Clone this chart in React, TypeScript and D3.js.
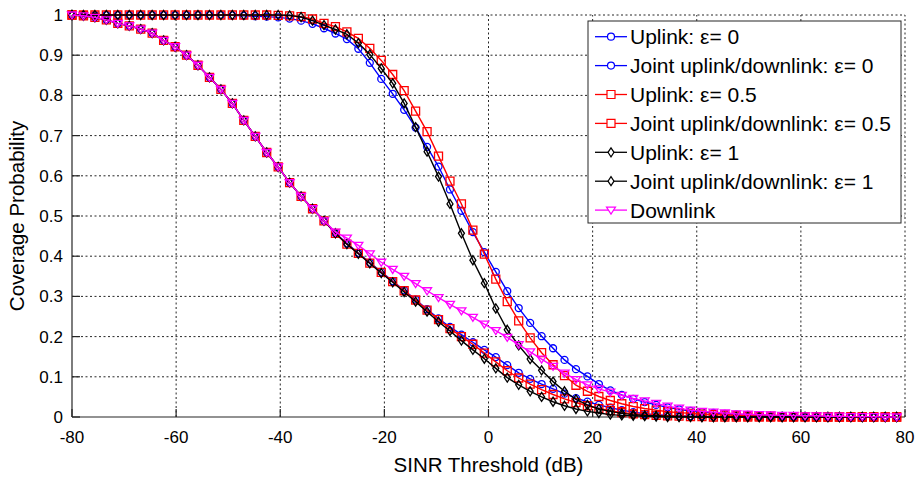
import React from 'react';
import * as d3 from 'd3';

// SINR grid (dB) where the curves were sampled
const snrDb = [
  -80, -77.8, -75.6, -73.4, -71.2, -69, -66.8, -64.6, -62.4, -60.2,
  -58, -55.8, -53.6, -51.4, -49.2, -47, -44.8, -42.6, -40.4, -38.2,
  -36, -33.8, -31.6, -29.4, -27.2, -25, -22.8, -20.6, -18.4, -16.2,
  -14, -11.8, -9.6, -7.4, -5.2, -3, -0.8, 1.4, 3.6, 5.8,
  8, 10.2, 12.4, 14.6, 16.8, 19, 21.2, 23.4, 25.6, 27.8,
  30, 32.2, 34.4, 36.6, 38.8, 41, 43.2, 45.4, 47.6, 49.8,
  52, 54.2, 56.4, 58.6, 60.8, 63, 65.2, 67.4, 69.6, 71.8,
  74, 76.2, 78.4,
];

const uplinkEps0 = [
  1, 1, 1, 1, 1, 1, 1, 1, 1, 1,
  1, 1, 1, 1, 0.999, 0.998, 0.997, 0.996, 0.994, 0.991,
  0.986, 0.978, 0.967, 0.954, 0.94, 0.916, 0.881, 0.841, 0.804, 0.764,
  0.72, 0.672, 0.623, 0.566, 0.513, 0.46, 0.41, 0.361, 0.313, 0.271,
  0.234, 0.201, 0.171, 0.142, 0.119, 0.101, 0.082, 0.066, 0.055, 0.045,
  0.037, 0.03, 0.024, 0.019, 0.015, 0.012, 0.01, 0.008, 0.006, 0.005,
  0.004, 0.003, 0.003, 0.002, 0.002, 0.001, 0.001, 0.001, 0, 0,
  0, 0, 0,
];

const jointEps0 = [
  1, 0.998, 0.994, 0.988, 0.979, 0.973, 0.965, 0.955, 0.937, 0.921,
  0.9, 0.875, 0.845, 0.815, 0.78, 0.738, 0.698, 0.658, 0.622, 0.583,
  0.549, 0.518, 0.488, 0.457, 0.432, 0.408, 0.384, 0.361, 0.338, 0.315,
  0.292, 0.268, 0.245, 0.224, 0.205, 0.186, 0.167, 0.149, 0.129, 0.11,
  0.095, 0.082, 0.07, 0.058, 0.047, 0.038, 0.03, 0.023, 0.017, 0.012,
  0.008, 0.006, 0.004, 0.003, 0.002, 0.002, 0.001, 0.001, 0, 0,
  0, 0, 0, 0, 0, 0, 0, 0, 0, 0,
  0, 0, 0,
];

const uplinkEps05 = [
  1, 1, 1, 1, 1, 1, 1, 1, 1, 1,
  1, 1, 1, 1, 1, 1, 1, 1, 0.999, 0.998,
  0.996, 0.99, 0.979, 0.971, 0.958, 0.942, 0.917, 0.887, 0.852, 0.812,
  0.761, 0.71, 0.649, 0.587, 0.53, 0.465, 0.405, 0.343, 0.287, 0.239,
  0.197, 0.16, 0.13, 0.103, 0.079, 0.064, 0.051, 0.041, 0.033, 0.026,
  0.021, 0.017, 0.013, 0.011, 0.009, 0.007, 0.006, 0.005, 0.004, 0.003,
  0.002, 0.002, 0.001, 0.001, 0.001, 0, 0, 0, 0, 0,
  0, 0, 0,
];

const jointEps05 = [
  1, 0.998, 0.994, 0.988, 0.979, 0.973, 0.965, 0.955, 0.937, 0.921,
  0.9, 0.875, 0.845, 0.815, 0.78, 0.738, 0.698, 0.658, 0.622, 0.583,
  0.549, 0.518, 0.488, 0.457, 0.43, 0.407, 0.383, 0.36, 0.337, 0.314,
  0.291, 0.266, 0.242, 0.22, 0.2, 0.181, 0.159, 0.137, 0.115, 0.097,
  0.082, 0.068, 0.056, 0.045, 0.036, 0.028, 0.021, 0.016, 0.011, 0.008,
  0.006, 0.004, 0.003, 0.002, 0.001, 0.001, 0, 0, 0, 0,
  0, 0, 0, 0, 0, 0, 0, 0, 0, 0,
  0, 0, 0,
];

const uplinkEps1 = [
  1, 1, 1, 1, 1, 1, 1, 1, 1, 1,
  1, 1, 1, 1, 1, 1, 1, 1, 1, 0.999,
  0.995, 0.986, 0.975, 0.964, 0.952, 0.93, 0.902, 0.867, 0.83, 0.78,
  0.721, 0.66, 0.598, 0.53, 0.457, 0.39, 0.333, 0.27, 0.217, 0.178,
  0.144, 0.116, 0.088, 0.064, 0.044, 0.03, 0.02, 0.014, 0.009, 0.006,
  0.004, 0.003, 0.002, 0.001, 0.001, 0, 0, 0, 0, 0,
  0, 0, 0, 0, 0, 0, 0, 0, 0, 0,
  0, 0, 0,
];

const jointEps1 = [
  1, 0.998, 0.994, 0.988, 0.979, 0.973, 0.965, 0.955, 0.937, 0.921,
  0.9, 0.875, 0.845, 0.815, 0.78, 0.738, 0.698, 0.658, 0.622, 0.583,
  0.549, 0.518, 0.488, 0.457, 0.43, 0.406, 0.382, 0.358, 0.335, 0.311,
  0.287, 0.262, 0.237, 0.214, 0.19, 0.167, 0.145, 0.121, 0.098, 0.08,
  0.064, 0.05, 0.038, 0.028, 0.02, 0.014, 0.01, 0.006, 0.004, 0.003,
  0.002, 0.001, 0, 0, 0, 0, 0, 0, 0, 0,
  0, 0, 0, 0, 0, 0, 0, 0, 0, 0,
  0, 0, 0,
];

const downlink = [
  1, 0.998, 0.994, 0.988, 0.979, 0.973, 0.965, 0.955, 0.937, 0.921,
  0.9, 0.875, 0.845, 0.815, 0.78, 0.738, 0.698, 0.658, 0.622, 0.583,
  0.549, 0.518, 0.488, 0.46, 0.445, 0.427, 0.406, 0.385, 0.367, 0.35,
  0.332, 0.314, 0.297, 0.28, 0.264, 0.248, 0.231, 0.215, 0.198, 0.18,
  0.162, 0.144, 0.126, 0.109, 0.093, 0.08, 0.07, 0.062, 0.054, 0.046,
  0.04, 0.034, 0.027, 0.022, 0.017, 0.014, 0.012, 0.01, 0.008, 0.007,
  0.006, 0.005, 0.004, 0.004, 0.003, 0.003, 0.002, 0.002, 0.001, 0.001,
  0.001, 0, 0,
];

const xTicks = [-80, -60, -40, -20, 0, 20, 40, 60, 80];
const yTicks = [0, 0.1, 0.2, 0.3, 0.4, 0.5, 0.6, 0.7, 0.8, 0.9, 1];

const series = [
  { label: 'Uplink: ε= 0', values: uplinkEps0, color: '#0000ff', marker: 'circle' },
  { label: 'Joint uplink/downlink: ε= 0', values: jointEps0, color: '#0000ff', marker: 'circle' },
  { label: 'Uplink: ε= 0.5', values: uplinkEps05, color: '#ff0000', marker: 'square' },
  { label: 'Joint uplink/downlink: ε= 0.5', values: jointEps05, color: '#ff0000', marker: 'square' },
  { label: 'Uplink: ε= 1', values: uplinkEps1, color: '#000000', marker: 'diamond' },
  { label: 'Joint uplink/downlink: ε= 1', values: jointEps1, color: '#000000', marker: 'diamond' },
  { label: 'Downlink', values: downlink, color: '#ff00ff', marker: 'triangle' },
];

const W = 921;
const H = 477;
const margin = { top: 15, right: 16, bottom: 60, left: 72 };
const FONT = '"Liberation Sans", Arial, Helvetica, sans-serif';
const AXIS = '#262626';

// marker outline centred on (0,0)
function markerPath(kind: string): string {
  switch (kind) {
    case 'circle':
      return 'M3.5,0A3.5,3.5 0 1,1 -3.5,0A3.5,3.5 0 1,1 3.5,0Z';
    case 'square':
      return 'M-4,-4H4V4H-4Z';
    case 'diamond':
      return 'M0,-4.5L3,0L0,4.5L-3,0Z';
    default:
      return 'M-4.5,-3H4.5L0,4Z';
  }
}

const App = () => {
  const x = d3.scaleLinear().domain([-80, 80]).range([margin.left, W - margin.right]);
  const y = d3.scaleLinear().domain([0, 1]).range([H - margin.bottom, margin.top]);

  const line = d3.line<number>()
    .x((_, i) => x(snrDb[i]))
    .y((d) => y(d));

  const x0 = x(-80);
  const x1 = x(80);
  const y0 = y(0);
  const y1 = y(1);

  // legend placement
  const lg = { x: 588, y: 21, w: 313, h: 202, row: 28.9, first: 36.7 };

  return (
    <div style={{ position: 'fixed', left: 0, top: 0 }}>
      <svg width={W} height={H} style={{ display: 'block', background: '#fff' }} fontFamily={FONT}>
        <rect width={W} height={H} fill="#fff" />

        {/* grid */}
        <g stroke={AXIS} strokeWidth={1} strokeDasharray="2,2.5" fill="none">
          {xTicks.slice(1).map((t) => (
            <line key={`gx${t}`} x1={x(t)} x2={x(t)} y1={y0} y2={y1} />
          ))}
          {yTicks.slice(1).map((t) => (
            <line key={`gy${t}`} x1={x0} x2={x1} y1={y(t)} y2={y(t)} />
          ))}
        </g>

        {/* axes */}
        <g stroke={AXIS} strokeWidth={1.2} fill="none">
          <line x1={x0} x2={x0} y1={y0} y2={y1} />
          <line x1={x0} x2={x1} y1={y0} y2={y0} />
          {xTicks.map((t) => (
            <line key={`tx${t}`} x1={x(t)} x2={x(t)} y1={y0} y2={y0 - 8} />
          ))}
          {yTicks.map((t) => (
            <line key={`ty${t}`} x1={x0} x2={x0 + 8} y1={y(t)} y2={y(t)} />
          ))}
        </g>

        {/* tick labels */}
        <g fontSize={17} fill="#000">
          {xTicks.map((t) => (
            <text key={`lx${t}`} x={x(t)} y={y0 + 26} textAnchor="middle">{t}</text>
          ))}
          {yTicks.map((t) => (
            <text key={`ly${t}`} x={x0 - 9} y={y(t) + 6} textAnchor="end">{t}</text>
          ))}
        </g>

        <text x={x(0)} y={472} textAnchor="middle" fontSize={20.5}>SINR Threshold (dB)</text>
        <text transform={`translate(24,${(y0 + y1) / 2}) rotate(-90)`} textAnchor="middle" fontSize={20.5}>
          Coverage Probability
        </text>

        {/* curves */}
        {series.map((s) => (
          <g key={s.label}>
            <path d={line(s.values) || ''} fill="none" stroke={s.color} strokeWidth={1.4} />
            {s.values.map((v, i) => (
              <path
                key={i}
                d={markerPath(s.marker)}
                transform={`translate(${x(snrDb[i])},${y(v)})`}
                fill="none"
                stroke={s.color}
                strokeWidth={1.3}
              />
            ))}
          </g>
        ))}

        {/* legend */}
        <g>
          <rect x={lg.x} y={lg.y} width={lg.w} height={lg.h} fill="#fff" stroke={AXIS} strokeWidth={1} />
          {series.map((s, i) => {
            const cy = lg.first + i * lg.row;
            return (
              <g key={`lg${i}`}>
                <line x1={595} x2={627} y1={cy} y2={cy} stroke={s.color} strokeWidth={1.3} />
                <path d={markerPath(s.marker)} transform={`translate(611,${cy})`} fill="#fff" stroke={s.color} strokeWidth={1.2} />
                <text x={630} y={cy + 7.5} fontSize={21} fill="#000">{s.label}</text>
              </g>
            );
          })}
        </g>
      </svg>
    </div>
  );
};

export default App;
